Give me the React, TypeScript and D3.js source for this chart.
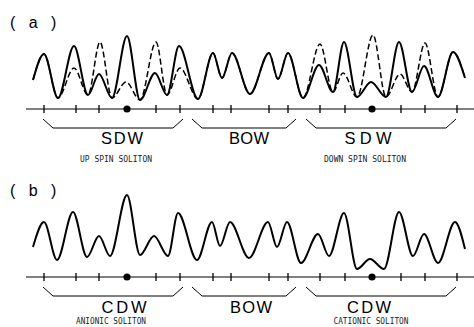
import React from "react";
import * as d3 from "d3";

// lattice positions (arbitrary length units) of the sites / ticks
const sites = [1.1, 4.3, 6.6, 9.4, 12.3, 14.7, 18.0, 19.8, 23.6, 25.5, 28.7, 31.2, 33.9, 36.8, 39.2, 42.4];
const dotSites = [3, 12];

// panel (a): solid curve extrema [position, density]
const aSolid: [number, number][] = [
  [0, 29], [1.1, 55], [2.5, 11], [4.1, 63], [5.5, 14], [6.6, 35], [7.9, 11], [9.4, 73],
  [10.7, 9], [12.2, 36], [13.4, 14], [14.6, 63], [16.5, 10], [18.0, 56], [18.9, 31],
  [19.9, 56], [21.7, 15], [23.6, 56], [24.5, 30], [25.5, 56], [27.0, 11],
  [28.6, 44], [30.0, 17], [31.1, 67], [32.4, 12], [33.8, 27], [35.3, 12], [36.6, 67],
  [37.9, 17], [39.1, 43], [40.5, 12], [42.0, 57], [43.2, 31],
];
// panel (a): dashed curve extrema
const aDashed: [number, number][] = [
  [0, 29], [1.1, 55], [2.5, 11], [4.1, 41], [5.5, 14], [6.7, 67], [7.9, 11], [9.3, 27],
  [10.7, 9], [12.3, 67], [13.4, 14], [14.7, 41], [16.5, 10], [18.0, 56], [18.9, 31],
  [19.9, 56], [21.7, 15], [23.6, 56], [24.5, 30], [25.5, 56], [27.0, 11],
  [28.7, 65], [30.0, 17], [31.0, 36], [32.4, 12], [34.0, 74], [35.3, 12], [36.7, 35],
  [37.9, 17], [39.2, 66], [40.5, 12], [42.0, 57], [43.2, 31],
];
// panel (b): curve extrema
const bSolid: [number, number][] = [
  [0, 30], [1.1, 55], [2.4, 17], [4.0, 65], [5.4, 20], [6.6, 41], [7.7, 21], [9.4, 82],
  [10.7, 22], [12.1, 41], [13.5, 21], [14.5, 64], [16.4, 17], [17.9, 55], [18.7, 31],
  [19.7, 55], [21.6, 19], [23.5, 55], [24.4, 30], [25.4, 55], [26.8, 14],
  [28.5, 43], [29.6, 21], [31.1, 64], [32.4, 8], [33.7, 18], [35.1, 8], [36.6, 65],
  [38.0, 21], [39.1, 43], [40.5, 14], [42.2, 55], [43.2, 28],
];

// brackets: start, end positions
const bracketStart = [1.0, 15.9, 27.3];
const bracketEnd = [15.0, 26.3, 42.3];
const labelsA = ["SDW", "BOW", "SDW"];
const labelsB = ["CDW", "BOW", "CDW"];
const labelPosA = [8.9, 21.6, 33.5];
const labelPosB = [9.1, 21.8, 33.6];
const subLabelsA = ["UP SPIN SOLITON", "", "DOWN SPIN SOLITON"];
const subLabelsB = ["ANIONIC SOLITON", "", "CATIONIC SOLITON"];
const subPosA = [8.3, 0, 33.2];
const subPosB = [7.8, 0, 33.8];
const subWidthA = [72, 0, 82];
const subWidthB = [70, 0, 75];
const labelWidthA = [42, 40, 47];
const labelWidthB = [45, 42, 44];
const panelNames = ["a", "b"];

const W = 474;
const H = 327;

const x = d3.scaleLinear().domain([0, 43.2]).range([33, 465]);
const y = d3.scaleLinear().domain([0, 80]).range([109, 29]);
const line = d3
  .line<[number, number]>()
  .x((d) => x(d[0]))
  .y((d) => y(d[1]))
  .curve(d3.curveMonotoneX);

function Panel(props: {
  dy: number;
  name: string;
  curves: { data: [number, number][]; dashed: boolean }[];
  labels: string[];
  labelPos: number[];
  labelWidth: number[];
  labelBase: number;
  subs: string[];
  subPos: number[];
  subWidth: number[];
  subBase: number;
}) {
  const axisY = y(0);
  return (
    <g transform={`translate(0,${props.dy})`}>
      <text x={10} y={28} fontFamily="Liberation Sans, Arial, sans-serif" fontSize={16} letterSpacing={4.5}>
        {`( ${props.name} )`}
      </text>
      {props.curves.map((c, i) => (
        <path
          key={i}
          d={line(c.data) || ""}
          fill="none"
          stroke="#000"
          strokeWidth={c.dashed ? 1.5 : 2}
          strokeDasharray={c.dashed ? "6,3" : undefined}
          strokeLinejoin="round"
        />
      ))}
      <line x1={26} x2={W} y1={axisY} y2={axisY} stroke="#000" strokeWidth={1} />
      {sites.map((s, i) =>
        dotSites.includes(i) ? (
          <circle key={i} cx={x(s)} cy={axisY} r={3.6} fill="#000" />
        ) : (
          <line key={i} x1={x(s)} x2={x(s)} y1={axisY - 4} y2={axisY + 4} stroke="#000" strokeWidth={1.3} />
        )
      )}
      {bracketStart.map((s, i) => {
        const x0 = x(s);
        const x1 = x(bracketEnd[i]);
        const top = axisY + 10;
        const bot = axisY + 19;
        return (
          <path
            key={i}
            d={`M${x0},${top}L${x0 + 10},${bot}L${x1 - 10},${bot}L${x1},${top}`}
            fill="none"
            stroke="#000"
            strokeWidth={1}
          />
        );
      })}
      {props.labels.map((l, i) => (
        <text
          key={i}
          x={x(props.labelPos[i]) - props.labelWidth[i] / 2}
          y={axisY + props.labelBase}
          fontFamily="Liberation Sans, Arial, sans-serif"
          fontSize={16.5}
          textLength={props.labelWidth[i]}
          lengthAdjust="spacing"
        >
          {l}
        </text>
      ))}
      {props.subs.map((l, i) =>
        l ? (
          <text
            key={i}
            x={x(props.subPos[i]) - props.subWidth[i] / 2}
            y={axisY + props.subBase}
            fontFamily="DejaVu Sans Mono, monospace"
            fontSize={9.5}
            fill="#222"
            textLength={props.subWidth[i]}
            lengthAdjust="spacingAndGlyphs"
          >
            {l}
          </text>
        ) : null
      )}
    </g>
  );
}

export default function App() {
  return (
    <svg
      width={W}
      height={H}
      viewBox={`0 0 ${W} ${H}`}
      style={{ position: "absolute", left: 0, top: 0, background: "#fff" }}
    >
      <rect width={W} height={H} fill="#fff" />
      <Panel
        dy={0}
        name={panelNames[0]}
        curves={[
          { data: aDashed, dashed: true },
          { data: aSolid, dashed: false },
        ]}
        labels={labelsA}
        labelPos={labelPosA}
        labelWidth={labelWidthA}
        labelBase={35}
        subs={subLabelsA}
        subPos={subPosA}
        subWidth={subWidthA}
        subBase={52.5}
      />
      <Panel
        dy={168}
        name={panelNames[1]}
        curves={[{ data: bSolid, dashed: false }]}
        labels={labelsB}
        labelPos={labelPosB}
        labelWidth={labelWidthB}
        labelBase={36}
        subs={subLabelsB}
        subPos={subPosB}
        subWidth={subWidthB}
        subBase={47}
      />
    </svg>
  );
}
